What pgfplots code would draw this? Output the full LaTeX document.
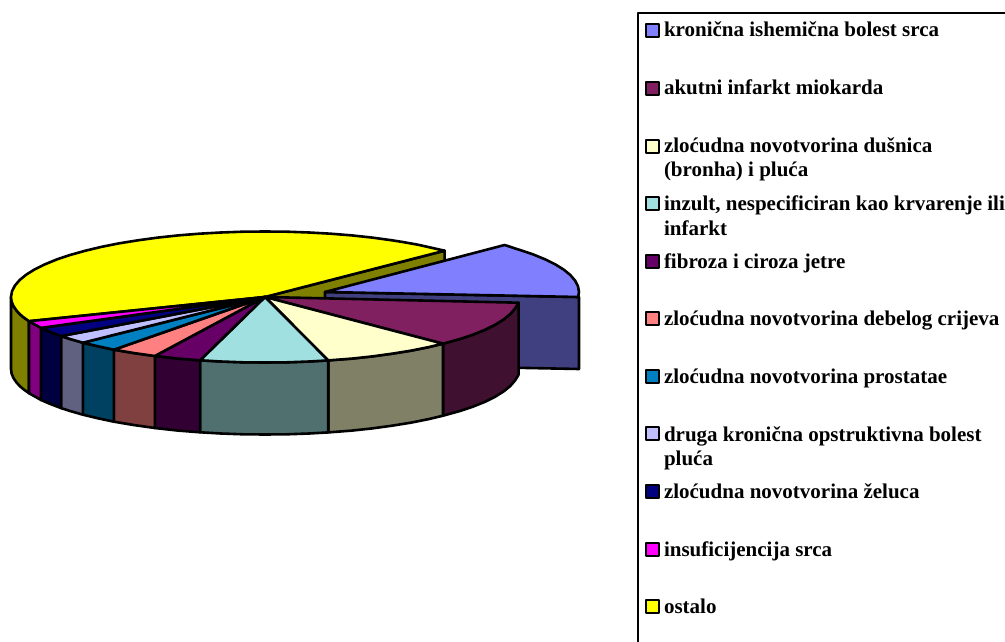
\documentclass[border=0pt]{standalone}
\usepackage{pgfplots}
\pgfplotsset{compat=1.18}
\usepackage{fontspec}
\setmainfont{Liberation Serif}
\definecolor{c1}{HTML}{8080FF}\definecolor{w1}{HTML}{404080}
\definecolor{c2}{HTML}{802060}\definecolor{w2}{HTML}{401030}
\definecolor{c3}{HTML}{FFFFCC}\definecolor{w3}{HTML}{808066}
\definecolor{c4}{HTML}{A0E0E0}\definecolor{w4}{HTML}{507070}
\definecolor{c5}{HTML}{660066}\definecolor{w5}{HTML}{330033}
\definecolor{c6}{HTML}{FF8080}\definecolor{w6}{HTML}{804040}
\definecolor{c7}{HTML}{0080C0}\definecolor{w7}{HTML}{004060}
\definecolor{c8}{HTML}{C0C0FF}\definecolor{w8}{HTML}{606080}
\definecolor{c9}{HTML}{000080}\definecolor{w9}{HTML}{000040}
\definecolor{c10}{HTML}{FF00FF}\definecolor{w10}{HTML}{800080}
\definecolor{c11}{HTML}{FFFF00}\definecolor{w11}{HTML}{808000}
\begin{document}
\begin{tikzpicture}
\useasboundingbox (0,0) rectangle (1005pt,642pt);
\begin{axis}[
  at={(0,0)}, anchor=south west,
  scale only axis, width=1005pt, height=642pt,
  xmin=0, xmax=1005, ymin=0, ymax=642, y dir=reverse,
  hide axis, clip=false,
  every axis plot/.append style={line width=2.6pt, line join=round, draw=black}
]
% yellow slice: outer wall and cut face
\addplot[fill=w11] coordinates {(11,297)(11.6,301.6)(13.5,306.1)(16.6,310.6)(19.7,314)(23.4,317.2)(29,321.2)(29,393.2)(23.4,389.2)(19.7,386)(16.6,382.6)(13.5,378.1)(11.6,373.6)(11,369)} -- cycle;
\addplot[fill=w11] coordinates {(265,297)(444.6,250.7)(444.6,322.7)(265,369)} -- cycle;
% exploded slice
\addplot[fill=w1] coordinates {(325,292)(578.2,297)(579,297)(579,369)(325,364)} -- cycle;
\addplot[fill=c1] coordinates {(325,292)(504.6,245)(519.6,249.9)(533.1,254.4)(545,259.3)(555.2,264.3)(563.7,269.6)(570.3,275)(575.1,280.6)(578,286.3)(579,292)(578.2,297)} -- cycle;
% outer walls
\addplot[fill=w2] coordinates {(518.6,302.7)(515.1,308.4)(510.3,314)(503.7,319.4)(495.2,324.7)(485,329.8)(473.1,334.6)(459.6,339.1)(443,343.7)(443,415.7)(459.6,411.1)(473.1,406.6)(485,401.8)(495.2,396.7)(503.7,391.4)(510.3,386)(515.1,380.4)(518.6,374.7)} -- cycle;
\addplot[fill=w3] coordinates {(443,343.7)(428.3,347.2)(410.7,350.7)(392,353.7)(372.3,356.4)(351.9,358.6)(328.2,360.4)(328.2,432.4)(351.9,430.6)(372.3,428.4)(392,425.7)(410.7,422.7)(428.3,419.2)(443,415.7)} -- cycle;
\addplot[fill=w4] coordinates {(328.2,360.4)(309.1,361.5)(287.1,362.3)(265,362.5)(242.9,362.3)(220.9,361.5)(200.1,360.3)(200.1,432.3)(220.9,433.5)(242.9,434.3)(265,434.5)(287.1,434.3)(309.1,433.5)(328.2,432.4)} -- cycle;
\addplot[fill=w5] coordinates {(200.1,360.3)(178.1,358.6)(154.8,356)(154.8,428)(178.1,430.6)(200.1,432.3)} -- cycle;
\addplot[fill=w6] coordinates {(154.8,356)(134.2,353.1)(113.9,349.7)(113.9,421.7)(134.2,425.1)(154.8,428)} -- cycle;
\addplot[fill=w7] coordinates {(113.9,349.7)(98.4,346.4)(82.9,342.7)(82.9,414.7)(98.4,418.4)(113.9,421.7)} -- cycle;
\addplot[fill=w8] coordinates {(82.9,342.7)(70.4,339.1)(61.1,336.1)(61.1,408.1)(70.4,411.1)(82.9,414.7)} -- cycle;
\addplot[fill=w9] coordinates {(61.1,336.1)(49.6,331.7)(40.9,327.9)(40.9,399.9)(49.6,403.7)(61.1,408.1)} -- cycle;
\addplot[fill=w10] coordinates {(40.9,327.9)(29,321.2)(29,393.2)(40.9,399.9)} -- cycle;
% top faces
\addplot[fill=c11] coordinates {(265,297)(29,321.2)(23.4,317.2)(19.7,314)(16.6,310.6)(13.5,306.1)(11.6,301.6)(11,297)(12,291.3)(14.9,285.6)(19.7,280)(26.3,274.6)(34.8,269.3)(45,264.3)(56.9,259.4)(70.4,254.9)(85.4,250.7)(101.7,246.8)(119.3,243.3)(138,240.3)(157.7,237.6)(178.1,235.4)(199.3,233.7)(220.9,232.5)(242.9,231.7)(265,231.5)(287.1,231.7)(309.1,232.5)(330.7,233.7)(351.9,235.4)(372.3,237.6)(392,240.3)(403.3,242.1)(417.9,244.7)(444.6,250.7)} -- cycle;
\addplot[fill=c2] coordinates {(265,297)(518.6,302.7)(515.1,308.4)(510.3,314)(503.7,319.4)(495.2,324.7)(485,329.8)(473.1,334.6)(459.6,339.1)(443,343.7)} -- cycle;
\addplot[fill=c3] coordinates {(265,297)(443,343.7)(428.3,347.2)(410.7,350.7)(392,353.7)(372.3,356.4)(351.9,358.6)(328.2,360.4)} -- cycle;
\addplot[fill=c4] coordinates {(265,297)(328.2,360.4)(309.1,361.5)(287.1,362.3)(265,362.5)(242.9,362.3)(220.9,361.5)(200.1,360.3)} -- cycle;
\addplot[fill=c5] coordinates {(265,297)(200.1,360.3)(178.1,358.6)(154.8,356)} -- cycle;
\addplot[fill=c6] coordinates {(265,297)(154.8,356)(134.2,353.1)(113.9,349.7)} -- cycle;
\addplot[fill=c7] coordinates {(265,297)(113.9,349.7)(98.4,346.4)(82.9,342.7)} -- cycle;
\addplot[fill=c8] coordinates {(265,297)(82.9,342.7)(70.4,339.1)(61.1,336.1)} -- cycle;
\addplot[fill=c9] coordinates {(265,297)(61.1,336.1)(49.6,331.7)(40.9,327.9)} -- cycle;
\addplot[fill=c10] coordinates {(265,297)(40.9,327.9)(29,321.2)} -- cycle;
% legend frame
\addplot[line width=2.6pt] coordinates {(638,642)(638,13)(1005,13)};
% legend swatches
\addplot[fill=c1]  coordinates {(646,24)(659,24)(659,37)(646,37)} -- cycle;
\addplot[fill=c2]  coordinates {(646,82)(659,82)(659,95)(646,95)} -- cycle;
\addplot[fill=c3]  coordinates {(646,140)(659,140)(659,153)(646,153)} -- cycle;
\addplot[fill=c4]  coordinates {(646,197)(659,197)(659,210)(646,210)} -- cycle;
\addplot[fill=c5]  coordinates {(646,255)(659,255)(659,268)(646,268)} -- cycle;
\addplot[fill=c6]  coordinates {(646,312)(659,312)(659,325)(646,325)} -- cycle;
\addplot[fill=c7]  coordinates {(646,370)(659,370)(659,383)(646,383)} -- cycle;
\addplot[fill=c8]  coordinates {(646,427)(659,427)(659,440)(646,440)} -- cycle;
\addplot[fill=c9]  coordinates {(646,485)(659,485)(659,498)(646,498)} -- cycle;
\addplot[fill=c10] coordinates {(646,543)(659,543)(659,556)(646,556)} -- cycle;
\addplot[fill=c11] coordinates {(646,600)(659,600)(659,613)(646,613)} -- cycle;
% legend text
\begin{scope}[every node/.style={anchor=base west, inner sep=0pt, outer sep=0pt, font=\fontsize{21}{24}\selectfont\bfseries}]
\node at (axis cs:664,37) {kronična ishemična bolest srca};
\node at (axis cs:664,95) {akutni infarkt miokarda};
\node at (axis cs:664,152.5) {zloćudna novotvorina dušnica};
\node at (axis cs:664,176.5) {(bronha) i pluća};
\node at (axis cs:664,210) {inzult, nespecificiran kao krvarenje ili};
\node at (axis cs:664,235) {infarkt};
\node at (axis cs:664,268) {fibroza i ciroza jetre};
\node at (axis cs:664,325) {zloćudna novotvorina debelog crijeva};
\node at (axis cs:664,383) {zloćudna novotvorina prostatae};
\node at (axis cs:664,441) {druga kronična opstruktivna bolest};
\node at (axis cs:664,465.5) {pluća};
\node at (axis cs:664,498) {zloćudna novotvorina želuca};
\node at (axis cs:664,556) {insuficijencija srca};
\node at (axis cs:664,613) {ostalo};
\end{scope}
\end{axis}
\end{tikzpicture}
\end{document}
